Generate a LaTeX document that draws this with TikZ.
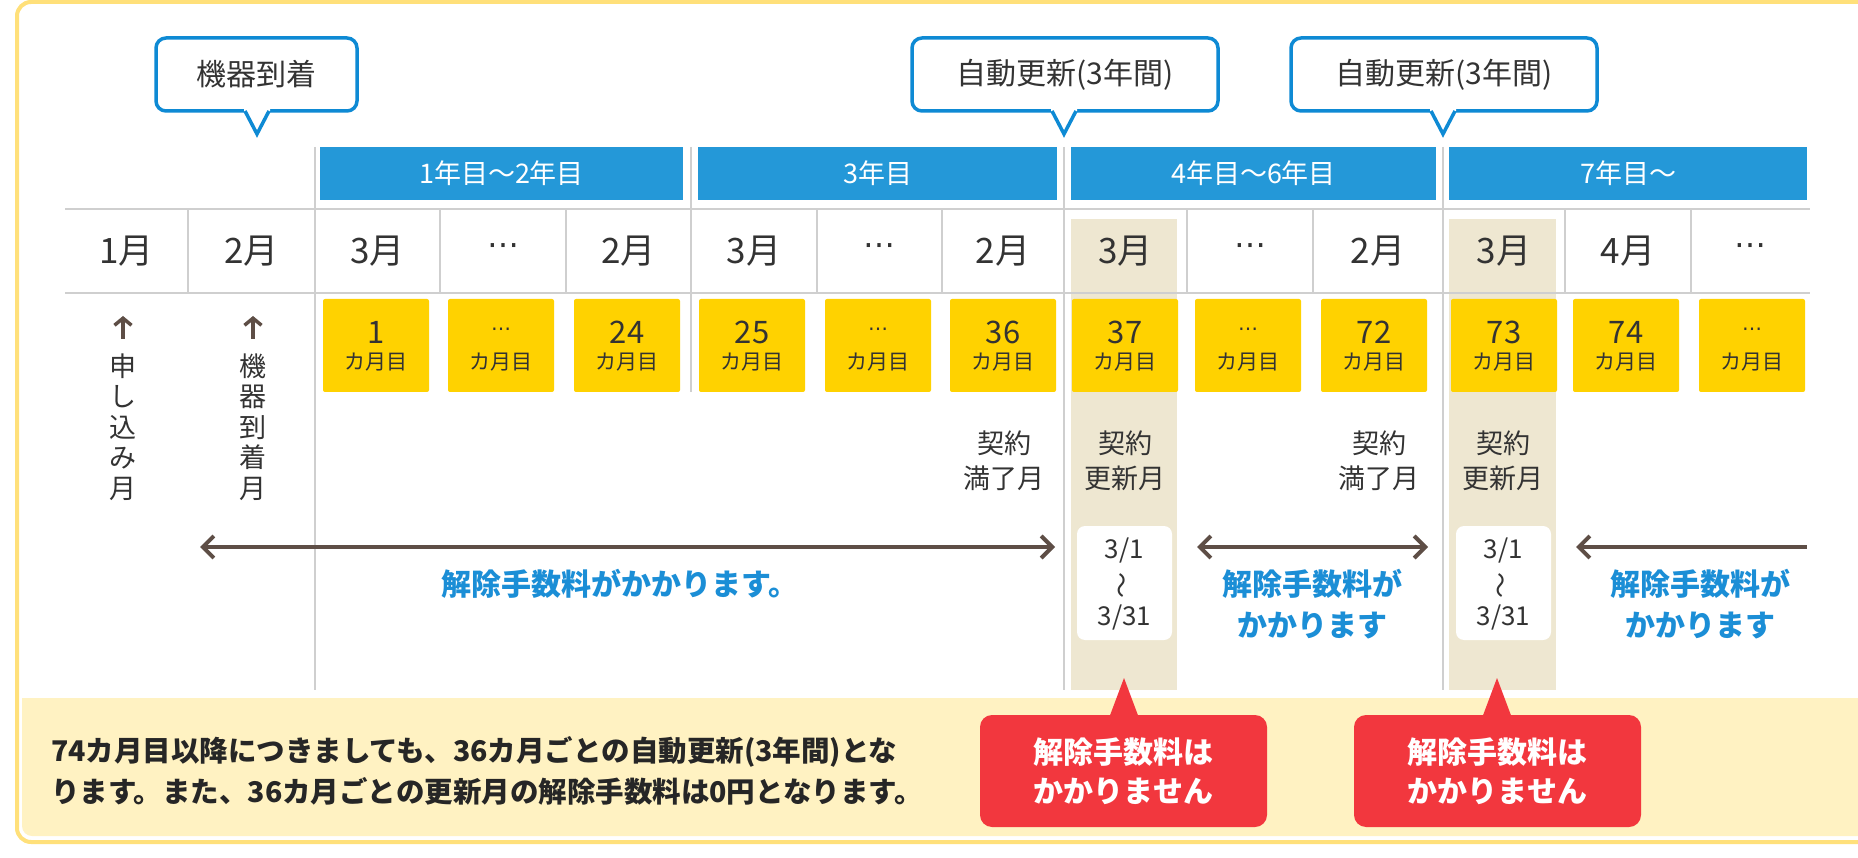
\documentclass[tikz,border=0pt]{standalone}
\usepackage{fontspec}
\setmainfont{Noto Sans CJK JP}
\newfontfamily\dejavu{DejaVu Sans}
\usetikzlibrary{arrows.meta}
\definecolor{frameY}{HTML}{FFE07A}
\definecolor{panelY}{HTML}{FFF2C2}
\definecolor{callB}{HTML}{0E8AD4}
\definecolor{hdrB}{HTML}{2498D8}
\definecolor{boxY}{HTML}{FFD200}
\definecolor{shadeC}{HTML}{EEE7D1}
\definecolor{arrC}{HTML}{5E4E46}
\definecolor{txtB}{HTML}{1B8ED6}
\definecolor{redC}{HTML}{F2373E}
\definecolor{gridC}{HTML}{CFCFCF}
\definecolor{txtC}{HTML}{333333}
\newcommand\myfs[2]{\fontsize{#1}{#2}\selectfont}
\newcommand\mydots{{\dejavu ⋯}}
\begin{document}
\begin{tikzpicture}[x=1pt,y=-1pt,
  every node/.style={inner sep=0pt,outer sep=0pt,text=txtC},
  >={Straight Barb[length=11pt,width=22pt]},
  gridline/.style={draw=gridC,line width=2pt},
  mon/.style={font=\myfs{35}{38}},
  hdr/.style={fill=hdrB,text=white,minimum height=53pt,font=\myfs{27}{30}},
  ybox/.style={fill=boxY,rounded corners=2pt,minimum width=106pt,minimum height=93pt},
  num/.style={font=\myfs{31}{32}},
  kag/.style={font=\myfs{21}{22}},
  callout/.style={draw=callB,line width=3.5pt,fill=white,rounded corners=10pt,minimum height=73pt,font=\myfs{30}{32}},
  ptr/.style={draw=callB,line width=3.5pt,line join=miter},
  vtxt/.style={align=center,font=\myfs{27}{30.4}},
  keiyaku/.style={align=center,font=\myfs{27}{35}},
  datebox/.style={fill=white,rounded corners=8pt,minimum width=95pt,minimum height=114pt},
  datetxt/.style={font=\myfs{26}{28}},
  bluetxt/.style={align=center,text=txtB,font=\bfseries\myfs{30}{41}},
  redbox/.style={fill=redC,rounded corners=12pt,text=white,align=center,minimum width=287pt,minimum height=112pt,font=\bfseries\myfs{30}{39}},
  arr/.style={draw=arrC,line width=4pt},
  uparr/.style={draw=arrC,line width=3.5pt,-{Straight Barb[length=7pt,width=17pt]}}
]
\path[use as bounding box] (0,0) rectangle (1858,858);
\clip (0,0) rectangle (1858,858);
% frame and bottom panel
\draw[draw=frameY,line width=4pt,fill=white,rounded corners=14pt] (17,2) rectangle (1900,842);
\fill[panelY,rounded corners=10pt] (22,698) rectangle (1900,836);
\fill[panelY] (22,698) rectangle (60,740);
% shaded renewal columns
\fill[shadeC] (1071,219) rectangle (1177,690);
\fill[shadeC] (1449,219) rectangle (1556,690);
% grid
\draw[gridline] (65,209) -- (1810,209);
\draw[gridline] (65,293) -- (1810,293);
\foreach \x in {188,440,566,817,942,1187,1313,1565,1691} \draw[gridline] (\x,209) -- (\x,293);
\draw[gridline] (315,147) -- (315,690);
\draw[gridline] (691,147) -- (691,392);
\draw[gridline] (1064,147) -- (1064,690);
\draw[gridline] (1443,147) -- (1443,690);
% headers
\node[hdr,minimum width=363pt] (h1) at (501.5,173.5) {1年目～2年目};
\node[hdr,minimum width=359pt] (h2) at (877.5,173.5) {3年目};
\node[hdr,minimum width=365pt] (h3) at (1253.5,173.5) {4年目～6年目};
\node[hdr,minimum width=358pt] (h4) at (1628,173.5) {7年目～};
% callouts
\foreach \n/\cx/\w/\tx/\t in {c1/256.5/201/257/機器到着, c2/1065/306/1064/自動更新(3年間), c3/1444/306/1443/自動更新(3年間)}{
  \node[callout,minimum width=\w pt] (\n) at (\cx,74.5) {\t};
  \fill[white] (\tx-13,107) -- (\tx+13,107) -- (\tx+13,111) -- (\tx,134) -- (\tx-13,111) -- cycle;
  \draw[ptr] (\tx-12,111) -- (\tx,134) -- (\tx+12,111);
}
% month row
\foreach \i/\l/\r/\m in {0/65/188/1月, 1/188/315/2月, 2/315/440/3月, 4/566/691/2月, 5/691/817/3月, 7/942/1064/2月, 8/1064/1187/3月, 10/1313/1443/2月, 11/1443/1565/3月, 12/1565/1691/4月}
  \node[mon] (m\i) at ({(\l+\r)/2},251) {\m};
\foreach \i/\l/\r in {3/440/566, 6/817/942, 9/1187/1313, 13/1691/1810}
  \node[font=\myfs{32}{32}] (m\i) at ({(\l+\r)/2},250) {\mydots};
% month-count boxes
\foreach \i/\l/\n in {2/315/1, 4/566/24, 5/691/25, 7/942/36, 8/1064/37, 10/1313/72, 11/1443/73, 12/1565/74}{
  \node[ybox] (y\i) at (\l+61,345.5) {};
  \node[num] (n\i) at (\l+61,332) {\n};
  \node[kag] (k\i) at (\l+61,362) {カ月目};
}
\foreach \i/\l in {3/440, 6/817, 9/1187, 13/1691}{
  \node[ybox] (y\i) at (\l+61,345.5) {};
  \node[font=\myfs{20}{20}] (n\i) at (\l+61,332) {\mydots};
  \node[kag] (k\i) at (\l+61,362) {カ月目};
}
% vertical labels with up arrows
\node[vtxt] (v1) at (123,427) {申\\し\\込\\み\\月};
\node[vtxt] (v2) at (253,427) {機\\器\\到\\着\\月};
\coordinate (u1s) at (123,339); \coordinate (u1e) at (123,316);
\coordinate (u2s) at (253,339); \coordinate (u2e) at (253,316);
\draw[uparr] (u1s) -- (u1e);
\draw[uparr] (u2s) -- (u2e);
% contract labels
\node[keiyaku] (kk1) at (1004,461) {契約\\満了月};
\node[keiyaku] (kk2) at (1125,461) {契約\\更新月};
\node[keiyaku] (kk3) at (1379,461) {契約\\満了月};
\node[keiyaku] (kk4) at (1503,461) {契約\\更新月};
% date boxes
\foreach \n/\cx in {d1/1124.5, d2/1503.5}{
  \node[datebox] (\n) at (\cx,583) {};
  \node[datetxt] (\n a) at (\cx,551) {3/1};
  \node[datetxt,rotate=90] (\n b) at (\cx,585) {～};
  \node[datetxt] (\n c) at (\cx,618) {3/31};
}
% fee arrows
\coordinate (a1l) at (200,547); \coordinate (a1r) at (1055,547);
\coordinate (a2l) at (1197,547); \coordinate (a2r) at (1428,547);
\coordinate (a3l) at (1576,547); \coordinate (a3r) at (1807,547);
\draw[arr,<->] (a1l) -- (a1r);
\draw[arr,<->] (a2l) -- (a2r);
\draw[arr,<-] (a3l) -- (a3r);
% blue texts
\node[bluetxt] (b1) at (620,584) {解除手数料がかかります。};
\node[bluetxt] (b2) at (1312,604) {解除手数料が\\かかります};
\node[bluetxt] (b3) at (1700,604) {解除手数料が\\かかります};
% red callouts
\node[redbox] (r1) at (1123.5,771) {解除手数料は\\かかりません};
\fill[redC] (1109,718) -- (1124,678) -- (1139,718) -- cycle;
\node[redbox] (r2) at (1497.5,771) {解除手数料は\\かかりません};
\fill[redC] (1482,718) -- (1497,678) -- (1512,718) -- cycle;
% bottom note
\node[anchor=west,align=left,font=\bfseries\myfs{28.5}{41},text=black!85] (note) at (51,771) {74カ月目以降につきましても、36カ月ごとの自動更新(3年間)とな\\ります。また、36カ月ごとの更新月の解除手数料は0円となります。};
\end{tikzpicture}
\end{document}
